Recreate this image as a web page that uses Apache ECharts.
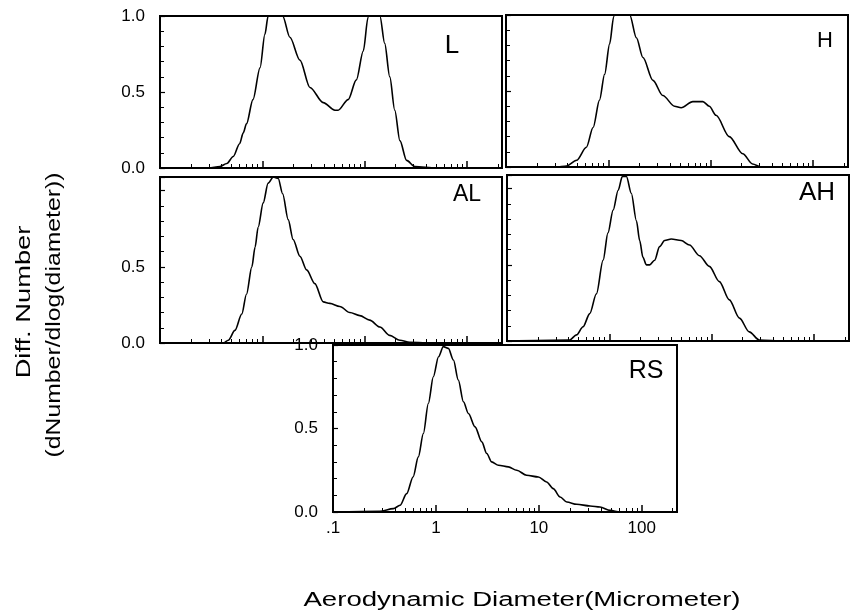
<!DOCTYPE html>
<html>
<head>
<meta charset="utf-8">
<script src="https://cdn.jsdelivr.net/npm/echarts@6/dist/echarts.min.js"></script>
<style>
  html, body { margin: 0; padding: 0; background: #fff; }
  #chart { width: 850px; height: 615px; }
</style>
</head>
<body>
<div id="chart"></div>
<script>
// aerodynamic diameter (micrometer) and normalised dN/dlogD
const lDiam = [0.1, 0.3, 0.385, 0.45, 0.52, 0.6, 0.65, 0.7, 0.81, 0.95, 1.06, 1.14, 1.35, 1.58, 1.86, 2.33, 2.92, 3.94, 5.12, 5.5, 6.9, 8.3, 9.7, 10.8, 11.7, 14.1, 15.7, 17.6, 19.7, 22.1, 25.7, 30.9, 50, 220];
const lNum  = [0, 0, 0.01, 0.03, 0.076, 0.16, 0.23, 0.29, 0.45, 0.66, 0.88, 1.0, 1.25, 1.0, 0.86, 0.71, 0.53, 0.43, 0.38, 0.38, 0.45, 0.58, 0.77, 0.99, 1.1, 1.0, 0.82, 0.6, 0.38, 0.18, 0.05, 0.01, 0, 0];

const hDiam = [0.1, 0.31, 0.39, 0.49, 0.61, 0.71, 0.82, 0.92, 1.03, 1.13, 1.35, 1.62, 1.88, 2.18, 2.73, 3.41, 4.44, 5.15, 6.7, 8.4, 9.7, 11.3, 15.2, 20.6, 25.7, 31, 50, 220];
const hNum  = [0, 0, 0.007, 0.044, 0.13, 0.26, 0.44, 0.61, 0.81, 0.99, 1.2, 1.0, 0.85, 0.72, 0.57, 0.47, 0.40, 0.39, 0.43, 0.43, 0.40, 0.34, 0.20, 0.087, 0.02, 0, 0, 0];

const alDiam = [0.1, 0.416, 0.465, 0.54, 0.63, 0.7, 0.79, 0.85, 0.91, 1.02, 1.14, 1.28, 1.43, 1.58, 1.79, 2.0, 2.33, 2.71, 3.26, 3.94, 4.57, 5.72, 7.17, 8.97, 11.2, 14.1, 17.6, 22.1, 27.6, 50, 220];
const alNum  = [0, 0, 0.018, 0.083, 0.19, 0.32, 0.5, 0.63, 0.76, 0.92, 1.05, 1.09, 1.08, 0.98, 0.81, 0.68, 0.57, 0.48, 0.39, 0.27, 0.26, 0.24, 0.20, 0.18, 0.15, 0.105, 0.05, 0.018, 0.004, 0, 0];

const ahDiam = [0.1, 0.41, 0.478, 0.554, 0.644, 0.748, 0.869, 0.97, 1.09, 1.22, 1.34, 1.47, 1.64, 1.84, 1.98, 2.13, 2.3, 2.48, 2.77, 3.1, 3.47, 4.03, 5.04, 6.08, 7.6, 9.5, 11.9, 14.9, 18.7, 23.3, 29.2, 50, 220];
const ahNum  = [0, 0.007, 0.04, 0.094, 0.18, 0.31, 0.53, 0.71, 0.86, 0.99, 1.08, 1.08, 0.97, 0.79, 0.66, 0.55, 0.50, 0.50, 0.53, 0.62, 0.66, 0.67, 0.66, 0.63, 0.56, 0.49, 0.39, 0.27, 0.15, 0.06, 0.007, 0, 0];

const rsDiam = [0.1, 0.286, 0.386, 0.448, 0.52, 0.6, 0.675, 0.755, 0.844, 0.944, 1.06, 1.18, 1.32, 1.48, 1.65, 1.85, 2.07, 2.4, 2.79, 3.12, 3.48, 4.05, 5.06, 6.1, 7.6, 9.9, 11.9, 13.8, 16.1, 18.7, 23.3, 31.5, 39.3, 49.2, 61.5, 220];
const rsNum  = [0, 0.004, 0.02, 0.04, 0.11, 0.21, 0.33, 0.47, 0.65, 0.81, 0.93, 0.99, 0.98, 0.91, 0.79, 0.66, 0.59, 0.51, 0.42, 0.35, 0.30, 0.28, 0.27, 0.25, 0.22, 0.21, 0.18, 0.14, 0.09, 0.06, 0.046, 0.036, 0.03, 0.01, 0, 0];

const decadeTicks = [0.1, 1, 10, 100];
const decadeLabels = ['.1', '1', '10', '100'];
const minorTicks = [0.2, 0.3, 0.4, 0.5, 0.6, 0.7, 0.8, 0.9, 2, 3, 4, 5, 6, 7, 8, 9, 20, 30, 40, 50, 60, 70, 80, 90, 200];
const yLabelValues = [0, 0.5, 1.0];

const FONT = "'Liberation Sans', Arial, sans-serif";
const X_MIN = 0.1, X_MAX = 220;

const panels = [
  { tag: 'L',  diam: lDiam,  num: lNum,  box: { left: 160, top: 16,  width: 342, height: 152 }, yMax: 1.0,  labelMax: 1.0, yLabels: true,  xLabels: false },
  { tag: 'H',  diam: hDiam,  num: hNum,  box: { left: 506, top: 15,  width: 342, height: 152 }, yMax: 1.0,  labelMax: 1.0, yLabels: false, xLabels: false },
  { tag: 'AL', diam: alDiam, num: alNum, box: { left: 160, top: 177, width: 342, height: 166 }, yMax: 1.09, labelMax: 0.5, yLabels: true,  xLabels: false },
  { tag: 'AH', diam: ahDiam, num: ahNum, box: { left: 507, top: 175, width: 342, height: 166 }, yMax: 1.09, labelMax: 0.5, yLabels: false, xLabels: false },
  { tag: 'RS', diam: rsDiam, num: rsNum, box: { left: 333, top: 345, width: 344, height: 167 }, yMax: 1.0,  labelMax: 1.0, yLabels: true,  xLabels: true }
];

// panel tag positions (text centres)
const tagPos = [
  { x: 452, y: 46,  size: 26 },
  { x: 825, y: 41,  size: 22 },
  { x: 467, y: 195, size: 23 },
  { x: 817, y: 193, size: 26 },
  { x: 646, y: 371, size: 25 }
];

const chart = echarts.init(document.getElementById('chart'));

const grid = [], xAxis = [], yAxis = [], series = [], graphic = [];

panels.forEach((p, i) => {
  grid.push(Object.assign({
    show: true,
    borderColor: '#000',
    borderWidth: 2,
    backgroundColor: 'transparent'
  }, p.box));

  // decade ticks (and labels on the bottom panel)
  xAxis.push({
    type: 'log',
    logBase: 10,
    gridIndex: i,
    position: 'bottom',
    min: X_MIN,
    max: X_MAX,
    axisLine: { show: false },
    splitLine: { show: false },
    axisTick: { inside: true, length: 7, customValues: decadeTicks, lineStyle: { color: '#000', width: 1.5 } },
    axisLabel: {
      show: p.xLabels,
      customValues: decadeTicks,
      formatter: v => {
        const k = decadeTicks.findIndex(t => Math.abs(t - v) < t * 1e-6);
        return k >= 0 ? decadeLabels[k] : '';
      },
      color: '#000',
      fontSize: 17,
      fontFamily: FONT,
      margin: 8
    }
  });
  // minor log ticks
  xAxis.push({
    type: 'log',
    logBase: 10,
    gridIndex: i,
    position: 'bottom',
    offset: 0,
    min: X_MIN,
    max: X_MAX,
    axisLine: { show: false },
    splitLine: { show: false },
    axisTick: { inside: true, length: 4, customValues: minorTicks, lineStyle: { color: '#000', width: 1 } },
    axisLabel: { show: false }
  });

  yAxis.push({
    type: 'value',
    gridIndex: i,
    min: 0,
    max: p.yMax,
    interval: 0.5,
    axisLine: { show: false },
    splitLine: { show: false },
    axisTick: { inside: true, length: 5, lineStyle: { color: '#000', width: 1.2 } },
    minorTick: { show: true, splitNumber: 5, length: 4, lineStyle: { color: '#000', width: 1 } },
    axisLabel: {
      show: p.yLabels,
      formatter: v => (v > p.labelMax + 1e-6 || yLabelValues.every(t => Math.abs(t - v) > 1e-6)) ? '' : v.toFixed(1),
      color: '#000',
      fontSize: 17,
      fontFamily: FONT,
      margin: 15
    }
  });

  series.push({
    type: 'line',
    name: p.tag,
    xAxisIndex: 2 * i,
    yAxisIndex: i,
    data: p.diam.map((d, k) => [d, p.num[k]]),
    showSymbol: false,
    smooth: 0.3,
    smoothMonotone: 'x',
    clip: true,
    silent: true,
    lineStyle: { color: '#000', width: 1.6 }
  });

  graphic.push({
    type: 'text',
    x: tagPos[i].x,
    y: tagPos[i].y,
    style: {
      text: p.tag,
      fill: '#000',
      font: tagPos[i].size + 'px ' + FONT,
      textAlign: 'center',
      textVerticalAlign: 'middle'
    }
  });
});

// axis titles
graphic.push({
  type: 'text',
  x: 522,
  y: 600,
  scaleX: 1.38,
  style: {
    text: 'Aerodynamic Diameter(Micrometer)',
    fill: '#000',
    font: '20px ' + FONT,
    textAlign: 'center',
    textVerticalAlign: 'middle'
  }
});
graphic.push({
  type: 'text',
  x: 24,
  y: 302,
  rotation: Math.PI / 2,
  scaleX: 1.3,
  style: {
    text: 'Diff. Number',
    fill: '#000',
    font: '21px ' + FONT,
    textAlign: 'center',
    textVerticalAlign: 'middle'
  }
});
graphic.push({
  type: 'text',
  x: 54,
  y: 315,
  rotation: Math.PI / 2,
  scaleX: 1.18,
  style: {
    text: '(dNumber/dlog(diameter))',
    fill: '#000',
    font: '21px ' + FONT,
    textAlign: 'center',
    textVerticalAlign: 'middle'
  }
});

chart.setOption({
  backgroundColor: '#fff',
  animation: false,
  grid: grid,
  xAxis: xAxis,
  yAxis: yAxis,
  series: series,
  graphic: graphic
});
</script>
</body>
</html>
